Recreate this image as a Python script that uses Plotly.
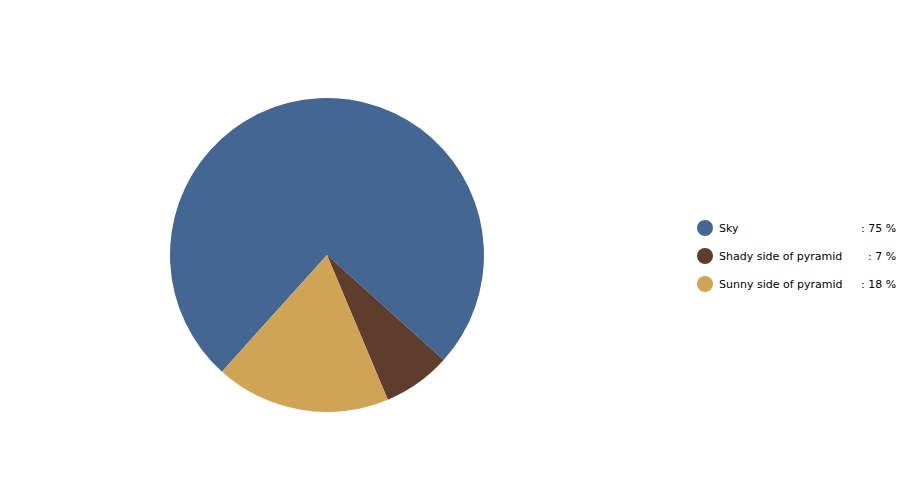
import plotly.graph_objects as go

labels = ["Sky", "Shady side of pyramid", "Sunny side of pyramid"]
values = [75, 7, 18]
colors = ["#446692", "#5e3d2d", "#cfa555"]

W, H = 919, 486
OFF = 8  # page body margin in the browser

fig = go.Figure()

# pie, no text, no built-in legend
fig.add_trace(go.Pie(labels=labels, values=values, sort=False, direction="clockwise",
                     rotation=222, marker=dict(colors=colors, line=dict(width=0)),
                     textinfo="none", showlegend=False,
                     domain=dict(x=[(170 - OFF) / W, (484 - OFF) / W],
                                 y=[(H - 412 + OFF) / H, (H - 98 + OFF) / H])))

# hand-drawn legend: circle, label, value
row_y = [228, 256, 284]
font = dict(family="DejaVu Sans", size=11, color="#000")
for i, lab in enumerate(labels):
    yp = (H - row_y[i] + OFF) / H
    fig.add_shape(type="circle", xref="paper", yref="paper", xsizemode="pixel", ysizemode="pixel",
                  xanchor=(705 - OFF) / W, yanchor=yp, x0=-8, x1=8, y0=-8, y1=8,
                  fillcolor=colors[i], line=dict(width=0))
    fig.add_annotation(x=(717 - OFF) / W, y=yp, xref="paper", yref="paper", text=lab,
                       showarrow=False, xanchor="left", yanchor="middle", font=font)
    fig.add_annotation(x=(898 - OFF) / W, y=yp, xref="paper", yref="paper",
                       text=f": {values[i]} %", showarrow=False, xanchor="right",
                       yanchor="middle", font=font)

fig.update_layout(width=W, height=H, margin=dict(l=0, r=0, t=0, b=0),
                  paper_bgcolor="white", plot_bgcolor="white",
                  xaxis=dict(visible=False), yaxis=dict(visible=False))

fig.write_html("out.html")
